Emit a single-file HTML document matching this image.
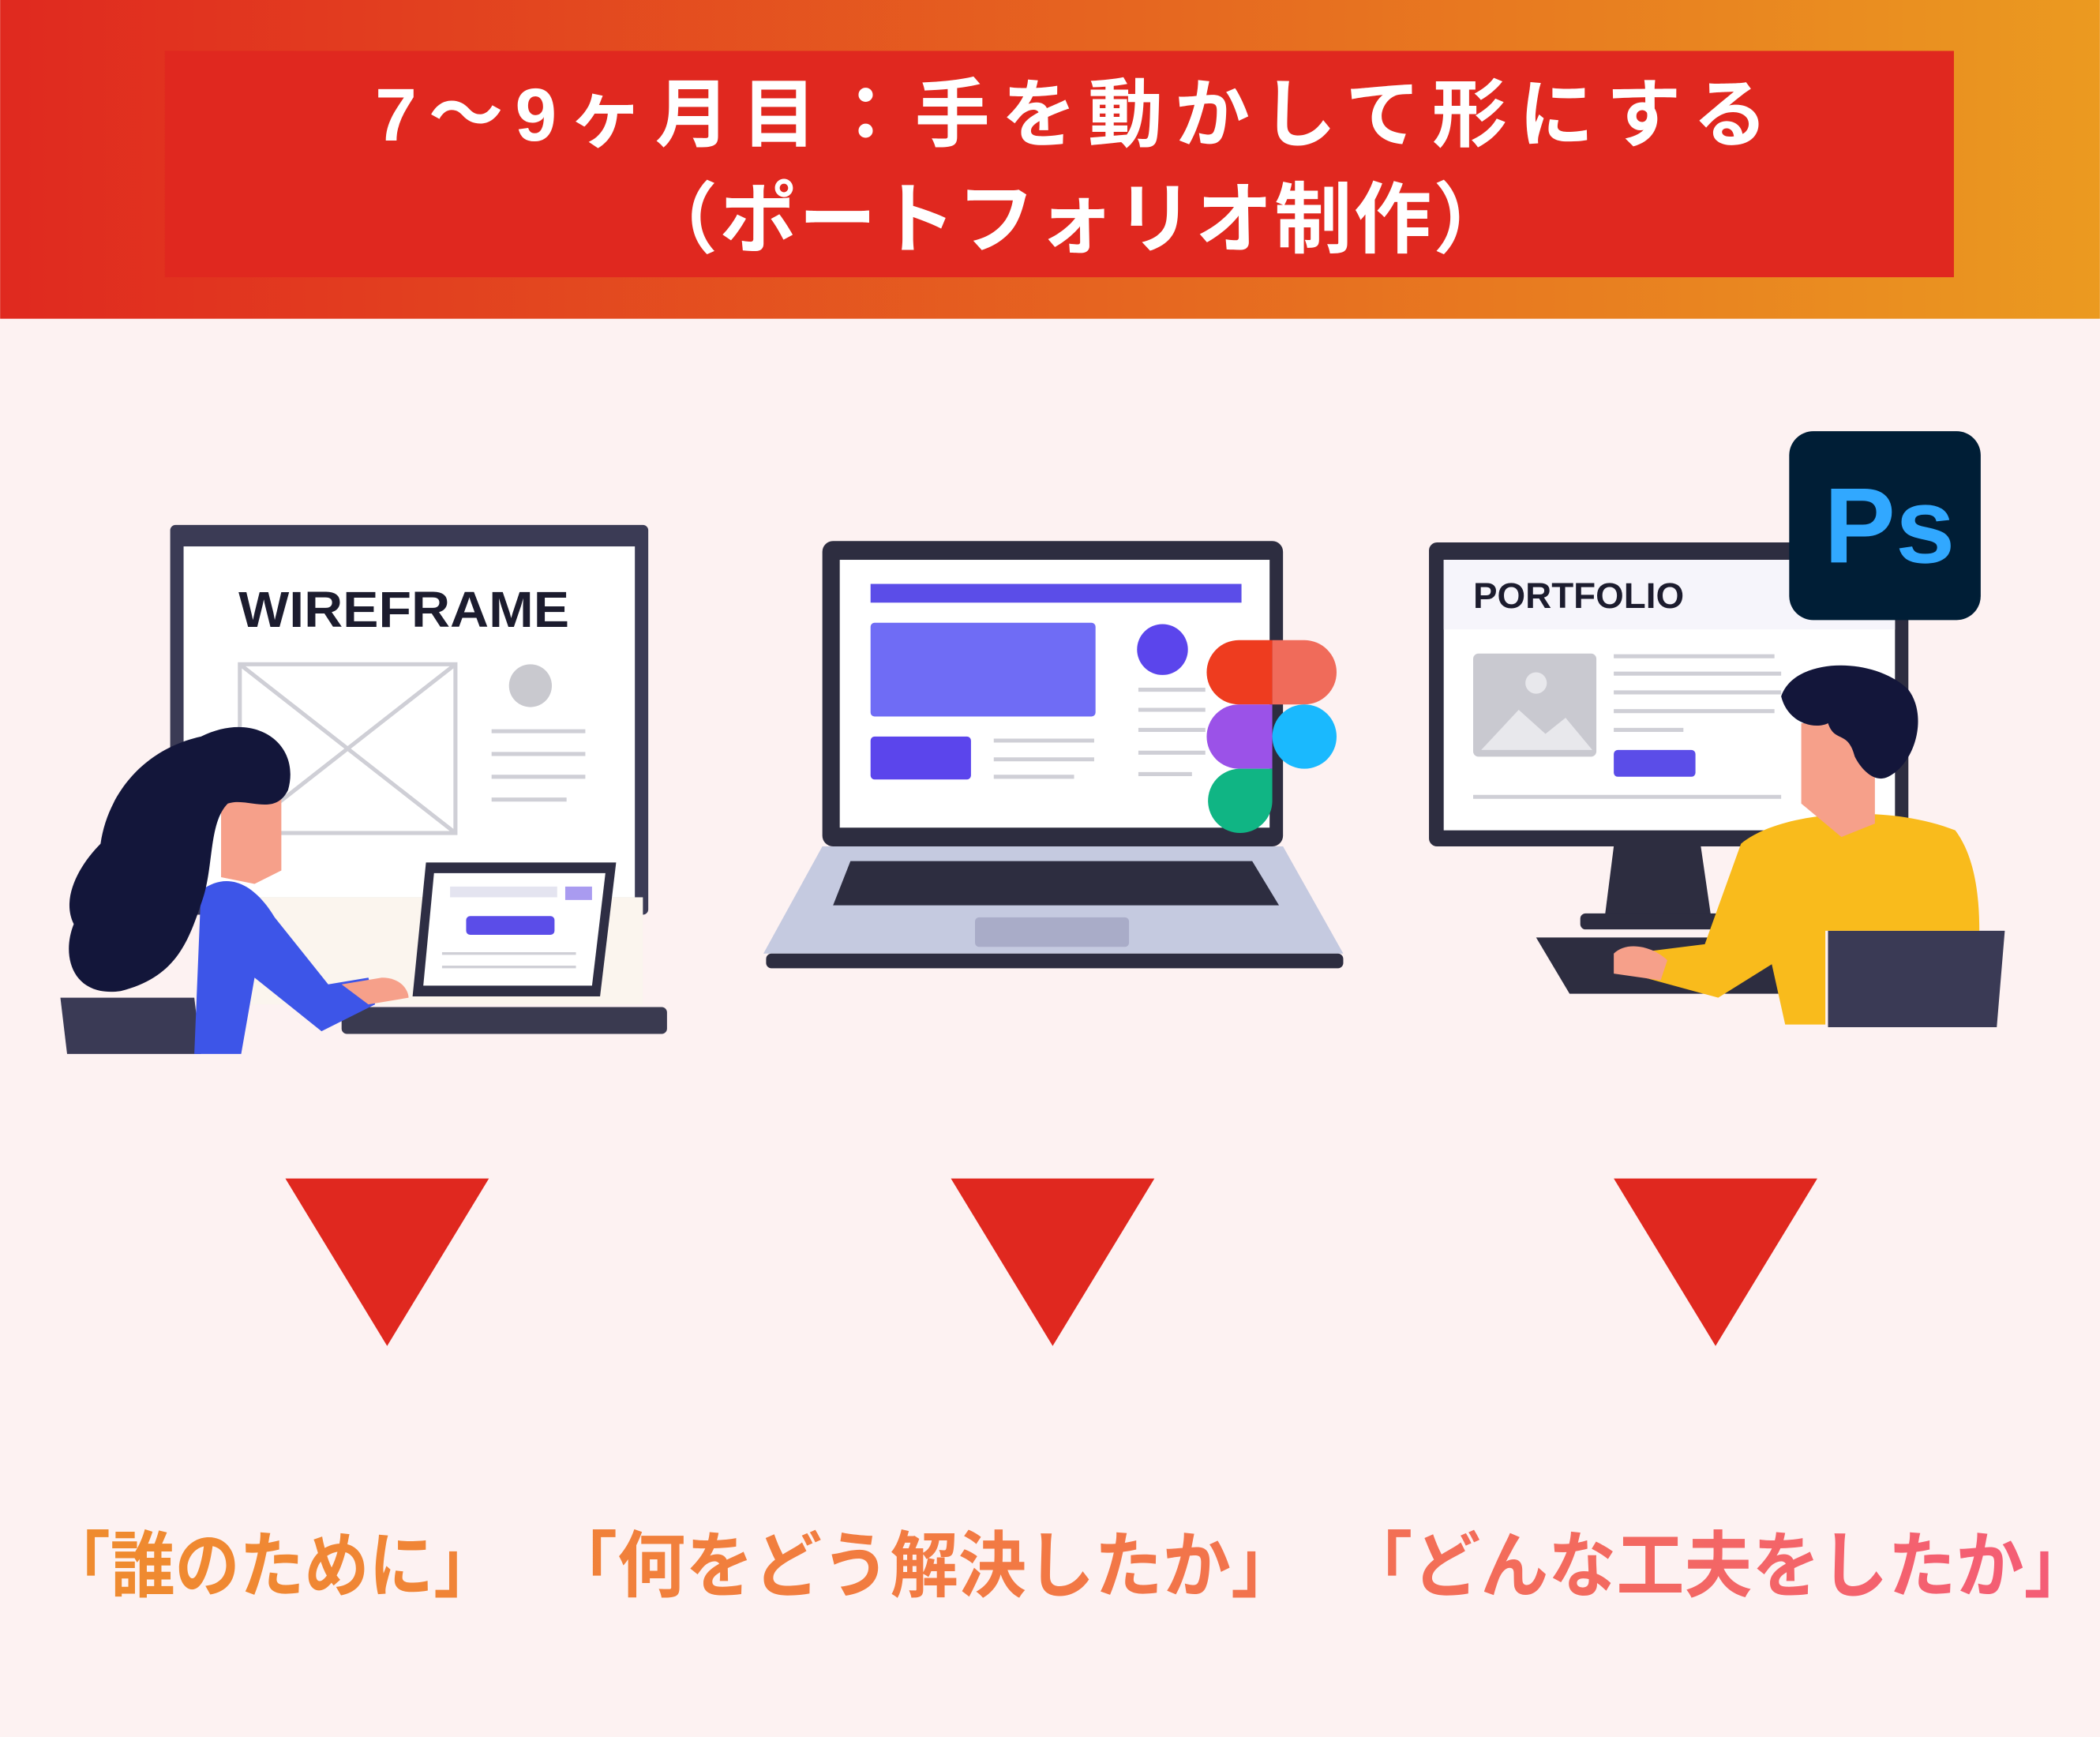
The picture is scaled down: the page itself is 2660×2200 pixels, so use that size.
<!DOCTYPE html>
<html><head><meta charset="utf-8"><style>
html,body{margin:0;padding:0;background:#fdf2f2;}
svg{display:block;}
text{font-family:"Liberation Sans","Noto Sans CJK JP",sans-serif;}
</style></head><body>
<svg width="2660" height="2200" viewBox="0 0 1568 1297" xmlns="http://www.w3.org/2000/svg">
<defs>
<linearGradient id="hg" x1="0" x2="1" y1="0" y2="0"><stop offset="0" stop-color="#e0291f"/><stop offset="1" stop-color="#eb9a20"/></linearGradient>
<linearGradient id="tg" gradientUnits="userSpaceOnUse" x1="40" x2="1560" y1="0" y2="0"><stop offset="0" stop-color="#ef8c2e"/><stop offset="0.5" stop-color="#f27845"/><stop offset="1" stop-color="#f45c78"/></linearGradient>
</defs>
<rect width="1568" height="1297" fill="#fdf2f2"/>
<rect width="1568" height="238" fill="url(#hg)"/>
<rect x="123" y="38" width="1336" height="169" fill="#e0281f"/>
<text x="280" y="105" font-size="56" font-weight="bold" fill="#fff" textLength="1040" lengthAdjust="spacing">7〜9ヶ月目：手を動かして形にする</text>
<text x="478" y="184" font-size="58" font-weight="bold" fill="#fff" textLength="650" lengthAdjust="spacing">（ポートフォリオ制作）</text>

<!-- LEFT -->
<rect x="127" y="392" width="357" height="291" rx="4" fill="#3b3b55"/>
<rect x="137" y="408" width="337" height="262" fill="#fff"/>
<text x="178" y="468" font-size="38" font-weight="bold" fill="#1c1c2e" textLength="247" lengthAdjust="spacingAndGlyphs">WIREFRAME</text>
<rect x="179" y="496" width="161" height="126" fill="none" stroke="#cfcfd6" stroke-width="3"/>
<path d="M179 496L340 622M340 496L179 622" stroke="#cfcfd6" stroke-width="3"/>
<circle cx="396" cy="512" r="16" fill="#c9c9cf"/>
<g stroke="#cfcfd6" stroke-width="3"><path d="M367 546h70M367 563h70M367 580h70M367 597h56"/></g>
<rect x="150" y="670" width="330" height="80" fill="#fbf5ee"/>
<path d="M318 644h142l-12 100h-140z" fill="#2e2e44"/>
<path d="M324 652h128l-10 84h-126z" fill="#fff"/>
<rect x="336" y="662" width="80" height="8" fill="#e4e4f0"/>
<rect x="422" y="662" width="20" height="10" fill="#a99bf0"/>
<rect x="348" y="684" width="66" height="14" rx="3" fill="#5b4de8"/>
<g stroke="#cfcfd6" stroke-width="2"><path d="M330 712h100M330 722h100"/></g>
<rect x="255" y="752" width="243" height="20" rx="4" fill="#3a3a50"/>
<path d="M45 745h100l5 42H50z" fill="#3a3a55"/>
<path d="M150 665c20-15 40-5 55 20l40 50 30-5 5 20-40 20-50-40-10 57h-35z" fill="#3d55e8"/>
<path d="M255 735l30-5c15 0 20 10 20 15l-30 5z" fill="#f6a08a"/>
<path d="M165 590h45v60l-20 10-25-5z" fill="#f6a08a"/>
<path d="M150 550c40-20 75 5 65 40-10 20-30 5-45 10-15 15-10 50-20 75-10 30-20 55-60 65-35 5-45-25-35-50-10-20 5-45 20-60 5-35 30-70 75-80z" fill="#13163a"/>

<!-- MIDDLE -->
<rect x="614" y="404" width="344" height="228" rx="8" fill="#2d2d40"/>
<rect x="627" y="418" width="321" height="200" fill="#fff"/>
<rect x="650" y="436" width="277" height="14" fill="#5b4de8"/>
<rect x="650" y="465" width="168" height="70" rx="3" fill="#6f6cf5"/>
<rect x="650" y="550" width="75" height="32" rx="3" fill="#5b45ec"/>
<circle cx="868" cy="485" r="19" fill="#5b45ec"/>
<g stroke="#cfcfd6" stroke-width="3"><path d="M742 553h75M742 567h75M742 580h60M850 515h50M850 530h50M850 545h50M850 562h50M850 578h40"/></g>
<path d="M614 632L570 712H1003L958 632z" fill="#c5cae0"/>
<path d="M635 643h300l20 33H622z" fill="#2d2d40"/>
<rect x="728" y="685" width="115" height="22" rx="3" fill="#a9acc8"/>
<rect x="572" y="712" width="431" height="11" rx="4" fill="#2d2d40"/>
<path d="M925 478h25v48h-25a24 24 0 0 1 0-48z" fill="#ee3c1f"/>
<path d="M950 478h24a24 24 0 0 1 0 48h-24z" fill="#f06b5a"/>
<path d="M925 526h25v48h-25a24 24 0 0 1 0-48z" fill="#9b52e8"/>
<circle cx="974" cy="550" r="24" fill="#1ab9fe"/>
<path d="M925 574h25v24a24 24 0 1 1-25-24z" fill="#10b584"/>

<!-- RIGHT -->
<rect x="1067" y="405" width="358" height="227" rx="6" fill="#2d2d40"/>
<rect x="1078" y="418" width="337" height="202" fill="#fff"/>
<rect x="1078" y="418" width="337" height="52" fill="#f6f5fb"/>
<text x="1100" y="454" font-size="27" font-weight="bold" fill="#1c1c2e">PORTFOLIO</text>
<rect x="1100" y="488" width="92" height="77" rx="4" fill="#c9c9d0"/>
<path d="M1106 560l28-30 20 18 15-12 20 24z" fill="#e8e8ec"/>
<circle cx="1147" cy="510" r="8" fill="#e8e8ec"/>
<g stroke="#cfcfd6" stroke-width="3"><path d="M1205 490h120M1205 503h125M1205 517h125M1205 531h120M1205 545h52M1100 595h230"/></g>
<rect x="1205" y="560" width="61" height="20" rx="3" fill="#5b4de8"/>
<path d="M1205 632h65l8 55h-80z" fill="#2d2d40"/>
<rect x="1180" y="682" width="120" height="12" rx="4" fill="#2d2d40"/>
<path d="M1147 700h180l5 42h-160z" fill="#2d2d40"/>
<rect x="1336" y="322" width="143" height="141" rx="18" fill="#001e36"/>
<text x="1362" y="420" font-size="80" font-weight="bold" fill="#31a8ff">Ps</text>
<path d="M1365 695h132l-6 72h-126z" fill="#3a3a55"/>
<path d="M1300 630c30-25 110-30 160-10 15 20 18 50 18 75h-115v70h-30l-10-45-40 25-55-15 5-20 40-5z" fill="#f9bb1c"/>
<path d="M1205 712c10-10 30-5 40 5l-5 15-35-5z" fill="#f6a08a"/>
<path d="M1345 540h55v75l-25 10-30-25z" fill="#f6a08a"/>
<path d="M1330 520c10-30 70-30 95-5 15 20 5 55-15 65-10 5-20-5-25-15-5-20-15-10-20-25-10 5-30 0-35-20z" fill="#13163a"/>

<!-- Triangles -->
<path d="M213 880h152l-76 125z" fill="#e0281f"/>
<path d="M710 880h152l-76 125z" fill="#e0281f"/>
<path d="M1205 880h152l-76 125z" fill="#e0281f"/>

<!-- Bottom text -->
<g fill="url(#tg)" font-size="54" font-weight="bold">
<text x="34" y="1188" textLength="338" lengthAdjust="spacingAndGlyphs">「誰のために」</text>
<text x="410" y="1188" textLength="560" lengthAdjust="spacingAndGlyphs">「何をどう解決したか」</text>
<text x="1004" y="1188" textLength="558" lengthAdjust="spacingAndGlyphs">「どんな工夫をしたか」</text>
</g>
</svg>
</body></html>
